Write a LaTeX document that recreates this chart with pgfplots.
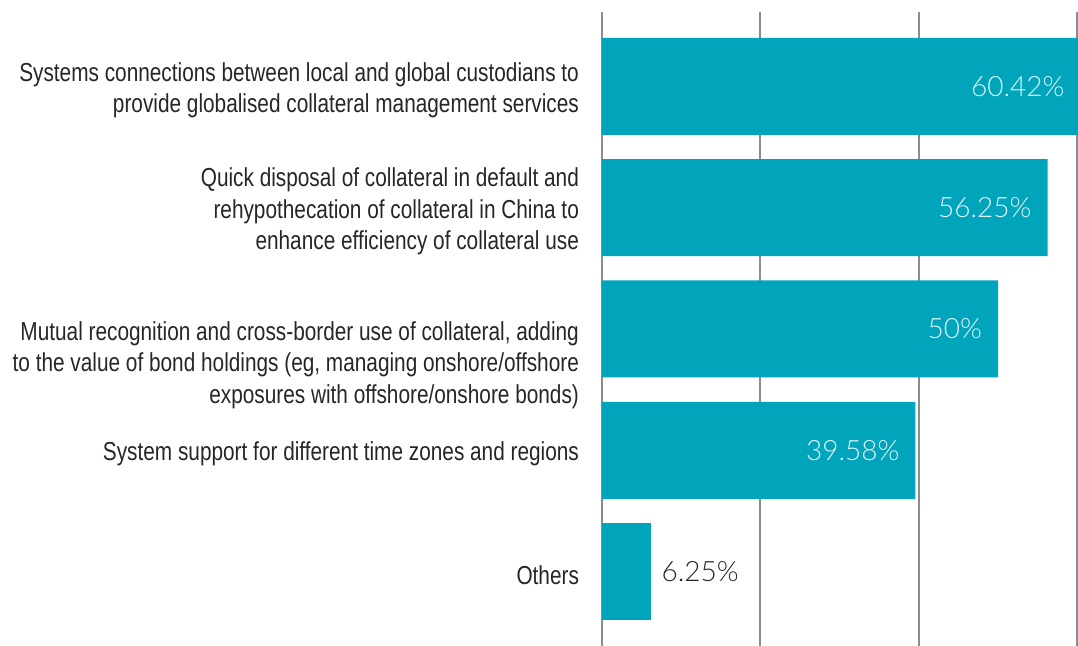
\documentclass[border=0pt]{standalone}
\usepackage{pgfplots}
\pgfplotsset{compat=1.18}
\usepackage{fontspec}
\setmainfont{Liberation Sans}[FakeStretch=0.80]
\newfontfamily\valfont{Lato Light}
\definecolor{barteal}{HTML}{00A5BC}
\definecolor{gridgray}{HTML}{8C8C8C}
\definecolor{labelgray}{HTML}{262626}
\newcommand\labelmutual{Mutual recognition and cross-border use of collateral, adding\\to the value of bond holdings (eg, managing onshore/offshore\\exposures with offshore/onshore bonds)}

\begin{document}
\begin{tikzpicture}
\begin{axis}[
  scale only axis,
  width=238pt, height=317pt,
  clip=false,
  xbar, bar width=48.5pt, bar shift=0pt,
  xmin=0, xmax=60.1,
  ymin=-0.614, ymax=4.614,
  axis line style={draw=none},
  xtick={0,20,40,60}, xticklabels={},
  xmajorgrids,
  grid style={gridgray, line width=1pt},
  major tick length=0pt,
  ytick={0,1,2,3,4},
  yticklabels={
    {Others},
    {System support for different time zones and regions},
    {},
    {Quick disposal of collateral in default and\\rehypothecation of collateral in China to\\enhance efficiency of collateral use},
    {Systems connections between local and global custodians to\\provide globalised collateral management services}
  },
  % the third label sits lower than its bar in the original
  extra y ticks={1.736},
  extra y tick labels={\labelmutual},
  yticklabel style={align=right, font=\fontsize{13}{15.75}\selectfont, text=labelgray, xshift=-8pt, yshift=-2pt},
  nodes near coords={\pgfmathprintnumber{\pgfplotspointmeta}\%},
  nodes near coords style={font=\valfont\fontsize{14}{15}\selectfont},
  /pgf/number format/.cd, fixed, precision=2, assume math mode=true,
]
\addplot[fill=barteal, draw=none,
  every node near coord/.append style={anchor=east, xshift=-4.5pt, text=white!88!barteal}]
  coordinates {(60.42,4) (56.25,3) (50,2) (39.58,1)};
\addplot[fill=barteal, draw=none,
  every node near coord/.append style={anchor=west, xshift=1.5pt, text=labelgray}]
  coordinates {(6.25,0)};
\coordinate (bl) at (axis description cs:-1.2647,0);
\coordinate (tr) at (axis description cs:1,1.0189);
\end{axis}
\pgfresetboundingbox
\path[use as bounding box] (bl) rectangle (tr);
\end{tikzpicture}
\end{document}
